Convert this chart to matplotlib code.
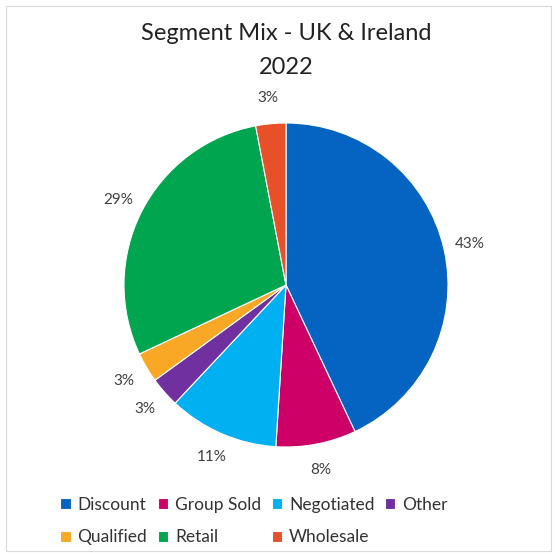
import matplotlib
matplotlib.use("Agg")
import matplotlib.pyplot as plt
from matplotlib.patches import Rectangle

plt.rcParams['font.family'] = ['Lato', 'DejaVu Sans']

segments = ['Discount', 'Group Sold', 'Negotiated', 'Other', 'Qualified', 'Retail', 'Wholesale']
shares = [43, 8, 11, 3, 3, 29, 3]
colors = ['#0563C1', '#CC0066', '#00B0F0', '#7030A0', '#F9A825', '#00A550', '#E8502A']

W = 557
fig = plt.figure(figsize=(5.57, 5.57), dpi=100)
fig.patches.append(Rectangle((6/W, 6/W), 1-12/W, 1-12/W, transform=fig.transFigure,
                             fill=False, edgecolor='#d9d9d9', lw=0.8))

cx, cy, r = 286/W, (W-285)/W, 162/W
ax = fig.add_axes([cx-r, cy-r, 2*r, 2*r])
wedges, texts, autotexts = ax.pie(shares, colors=colors, startangle=90, counterclock=False,
                                  autopct='%d%%', pctdistance=1.16, radius=1,
                                  wedgeprops=dict(edgecolor='white', linewidth=0.8),
                                  textprops=dict(fontsize=11, color='#404040'))
ax.set_xlim(-1, 1)
ax.set_ylim(-1, 1)
ax.set_aspect('equal')

fig.text(286/W, 1-34/W, 'Segment Mix - UK & Ireland', ha='center', va='center', fontsize=17, color='#222222')
fig.text(286/W, 1-67/W, '2022', ha='center', va='center', fontsize=17, color='#222222')

order = [0, 4, 1, 5, 2, 6, 3]
leg = fig.legend([wedges[i] for i in order], [segments[i] for i in order],
                 loc='center', bbox_to_anchor=(254/W, 1-521/W), ncol=4, frameon=False,
                 fontsize=12.5, handlelength=0.6, handleheight=0.6, handletextpad=0.4,
                 columnspacing=0.6, labelspacing=0.95, labelcolor='#333333')

fig.savefig('out.png', dpi=100, facecolor='white')
